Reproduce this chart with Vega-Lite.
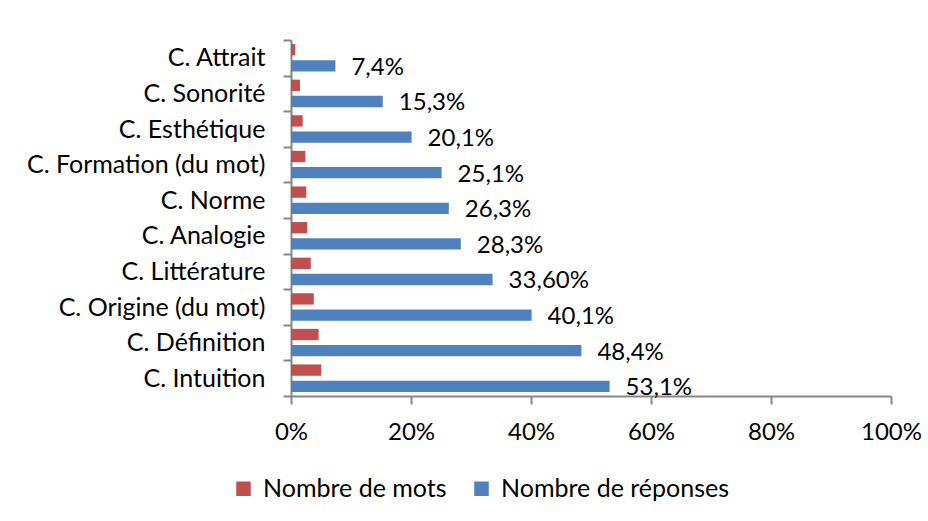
{
  "$schema": "https://vega.github.io/schema/vega-lite/v6.json",
  "autosize": {"type": "none"},
  "width": 600,
  "height": 356,
  "padding": {"left": 291, "top": 40, "right": 37, "bottom": 125},
  "background": "white",
  "config": {
    "font": "Lato",
    "view": {"stroke": null}
  },
  "data": {
    "values": [
      {"critere": "C. Attrait", "serie": "Nombre de mots", "valeur": 0.7, "label": ""},
      {"critere": "C. Attrait", "serie": "Nombre de réponses", "valeur": 7.4, "label": "7,4%"},
      {"critere": "C. Sonorité", "serie": "Nombre de mots", "valeur": 1.5, "label": ""},
      {"critere": "C. Sonorité", "serie": "Nombre de réponses", "valeur": 15.3, "label": "15,3%"},
      {"critere": "C. Esthétique", "serie": "Nombre de mots", "valeur": 1.95, "label": ""},
      {"critere": "C. Esthétique", "serie": "Nombre de réponses", "valeur": 20.1, "label": "20,1%"},
      {"critere": "C. Formation (du mot)", "serie": "Nombre de mots", "valeur": 2.4, "label": ""},
      {"critere": "C. Formation (du mot)", "serie": "Nombre de réponses", "valeur": 25.1, "label": "25,1%"},
      {"critere": "C. Norme", "serie": "Nombre de mots", "valeur": 2.55, "label": ""},
      {"critere": "C. Norme", "serie": "Nombre de réponses", "valeur": 26.3, "label": "26,3%"},
      {"critere": "C. Analogie", "serie": "Nombre de mots", "valeur": 2.7, "label": ""},
      {"critere": "C. Analogie", "serie": "Nombre de réponses", "valeur": 28.3, "label": "28,3%"},
      {"critere": "C. Littérature", "serie": "Nombre de mots", "valeur": 3.3, "label": ""},
      {"critere": "C. Littérature", "serie": "Nombre de réponses", "valeur": 33.6, "label": "33,60%"},
      {"critere": "C. Origine (du mot)", "serie": "Nombre de mots", "valeur": 3.8, "label": ""},
      {"critere": "C. Origine (du mot)", "serie": "Nombre de réponses", "valeur": 40.1, "label": "40,1%"},
      {"critere": "C. Définition", "serie": "Nombre de mots", "valeur": 4.6, "label": ""},
      {"critere": "C. Définition", "serie": "Nombre de réponses", "valeur": 48.4, "label": "48,4%"},
      {"critere": "C. Intuition", "serie": "Nombre de mots", "valeur": 5.05, "label": ""},
      {"critere": "C. Intuition", "serie": "Nombre de réponses", "valeur": 53.1, "label": "53,1%"}
    ]
  },
  "encoding": {
    "y": {
      "field": "critere",
      "type": "nominal",
      "sort": ["C. Attrait", "C. Sonorité", "C. Esthétique", "C. Formation (du mot)", "C. Norme", "C. Analogie", "C. Littérature", "C. Origine (du mot)", "C. Définition", "C. Intuition"],
      "scale": {"paddingInner": 0, "paddingOuter": 0},
      "axis": {
        "title": null,
        "tickBand": "extent",
        "domainColor": "#868686",
        "domainWidth": 2,
        "tickColor": "#868686",
        "tickWidth": 2,
        "tickSize": 8,
        "labelPadding": 18,
        "labelFontSize": 25,
        "labelColor": "#000000",
        "labelFont": "Lato",
        "labelLimit": 0
      }
    },
    "yOffset": {
      "field": "serie",
      "type": "nominal",
      "sort": ["Nombre de mots", "Nombre de réponses"],
      "scale": {"paddingInner": 0.3, "paddingOuter": 0.25}
    },
    "x": {
      "field": "valeur",
      "type": "quantitative",
      "scale": {"domain": [0, 100], "nice": false},
      "axis": {
        "title": null,
        "values": [0, 20, 40, 60, 80, 100],
        "labelExpr": "datum.value + '%'",
        "grid": false,
        "domainColor": "#868686",
        "domainWidth": 2,
        "tickColor": "#868686",
        "tickWidth": 2,
        "tickSize": 8,
        "labelPadding": 16,
        "labelFontSize": 24,
        "labelColor": "#000000",
        "labelFont": "Lato",
        "labelFlush": false,
        "labelLimit": 0
      }
    }
  },
  "layer": [
    {
      "mark": {"type": "bar"},
      "encoding": {
        "color": {
          "field": "serie",
          "type": "nominal",
          "sort": ["Nombre de mots", "Nombre de réponses"],
          "scale": {"domain": ["Nombre de mots", "Nombre de réponses"], "range": ["#C0504D", "#4F81BD"]},
          "legend": {
            "title": null,
            "orient": "none",
            "direction": "horizontal",
            "legendX": -60,
            "legendY": 436,
            "symbolType": "square",
            "symbolSize": 210,
            "symbolStrokeWidth": 0,
            "labelFontSize": 25,
            "labelFont": "Lato",
            "labelColor": "#000000",
            "labelLimit": 0,
            "columnPadding": 22,
            "labelOffset": 7
          }
        }
      }
    },
    {
      "mark": {"type": "text", "align": "left", "baseline": "middle", "dx": 16, "dy": 2, "fontSize": 24, "font": "Lato", "color": "#000000"},
      "encoding": {
        "text": {"field": "label", "type": "nominal"}
      }
    }
  ]
}
